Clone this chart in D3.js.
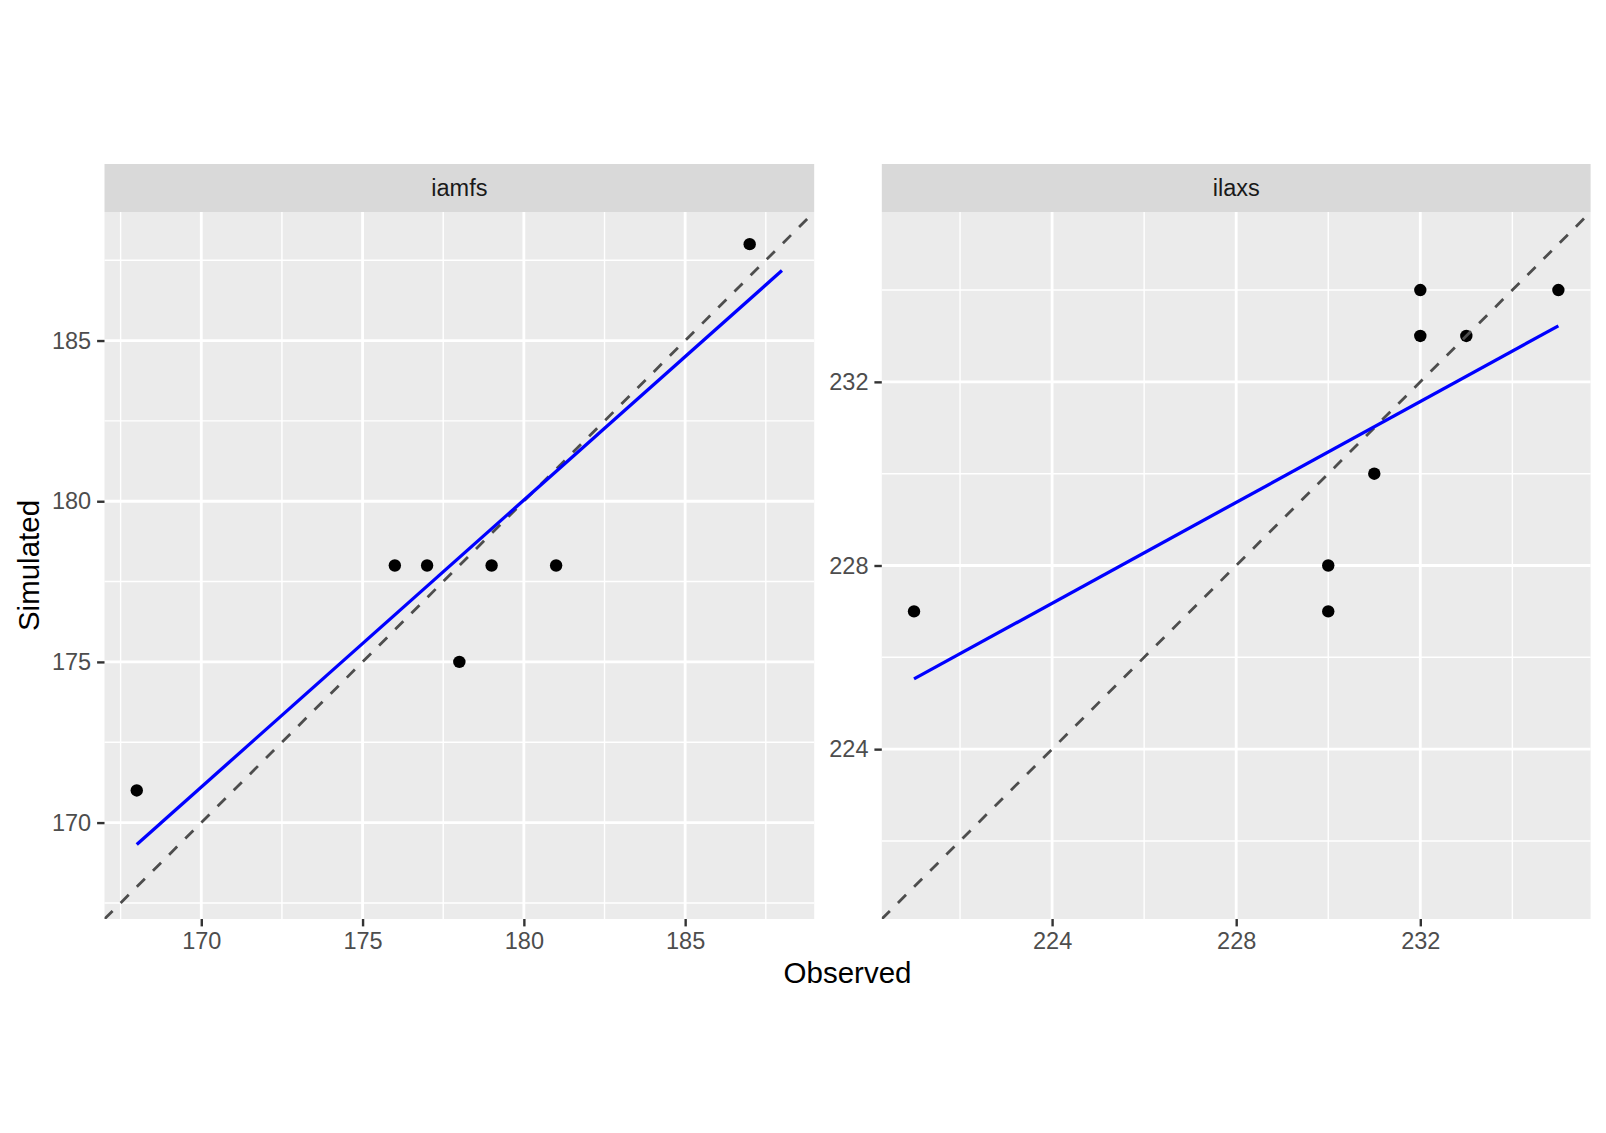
<!DOCTYPE html>
<html>
<head>
<meta charset="utf-8">
<script src="https://cdn.jsdelivr.net/npm/d3@7"></script>
<style>
  html, body { margin: 0; padding: 0; background: #ffffff; }
  svg { display: block; }
  text { font-family: "Liberation Sans", Arial, Helvetica, sans-serif; }
</style>
</head>
<body>
<svg id="chart" width="1606" height="1133"></svg>
<script>
// ---------------- data ----------------
const panelNames = ["iamfs", "ilaxs"];

const observedIamfs = [168, 176, 177, 178, 179, 181, 187];
const simulatedIamfs = [171, 178, 178, 175, 178, 178, 188];
const observedIlaxs = [221, 230, 230, 231, 232, 232, 233, 235];
const simulatedIlaxs = [227, 228, 227, 230, 234, 233, 233, 234];

// fitted (blue) line end points, in data units
const fitXIamfs = [168, 188];
const fitYIamfs = [169.32, 187.18];
const fitXIlaxs = [221, 235];
const fitYIlaxs = [225.53, 233.22];

// axis limits (same for x and y within a panel)
const limitsIamfs = [167, 189];
const limitsIlaxs = [220.3, 235.7];

// tick labels
const majorTicksIamfs = [170, 175, 180, 185];
const minorTicksIamfs = [167.5, 172.5, 177.5, 182.5, 187.5];
const majorTicksIlaxs = [224, 228, 232];
const minorTicksIlaxs = [222, 226, 230, 234];

const xTitle = "Observed";
const yTitle = "Simulated";

// ---------------- layout ----------------
const svg = d3.select("#chart");
const panelTop = 212, panelBottom = 919, stripTop = 164;
const panelBoxes = [
  { left: 104.5, right: 814.2 },
  { left: 881.8, right: 1590.6 }
];

const panels = [
  { name: panelNames[0], obs: observedIamfs, sim: simulatedIamfs, fx: fitXIamfs, fy: fitYIamfs,
    lim: limitsIamfs, major: majorTicksIamfs, minor: minorTicksIamfs },
  { name: panelNames[1], obs: observedIlaxs, sim: simulatedIlaxs, fx: fitXIlaxs, fy: fitYIlaxs,
    lim: limitsIlaxs, major: majorTicksIlaxs, minor: minorTicksIlaxs }
];

const tickFont = 23.5, titleFont = 29.5;

panels.forEach((p, i) => {
  const box = panelBoxes[i];
  const x = d3.scaleLinear().domain(p.lim).range([box.left, box.right]);
  const y = d3.scaleLinear().domain(p.lim).range([panelBottom, panelTop]);
  const g = svg.append("g");

  const clipId = "clip" + i;
  svg.append("clipPath").attr("id", clipId)
    .append("rect").attr("x", box.left).attr("y", panelTop)
    .attr("width", box.right - box.left).attr("height", panelBottom - panelTop);

  // panel background
  g.append("rect").attr("x", box.left).attr("y", panelTop)
    .attr("width", box.right - box.left).attr("height", panelBottom - panelTop)
    .attr("fill", "#EBEBEB");

  // minor grid
  g.selectAll(".minx").data(p.minor).enter().append("line")
    .attr("x1", d => x(d)).attr("x2", d => x(d)).attr("y1", panelTop).attr("y2", panelBottom)
    .attr("stroke", "#ffffff").attr("stroke-width", 1.4);
  g.selectAll(".miny").data(p.minor).enter().append("line")
    .attr("y1", d => y(d)).attr("y2", d => y(d)).attr("x1", box.left).attr("x2", box.right)
    .attr("stroke", "#ffffff").attr("stroke-width", 1.4);
  // major grid
  g.selectAll(".majx").data(p.major).enter().append("line")
    .attr("x1", d => x(d)).attr("x2", d => x(d)).attr("y1", panelTop).attr("y2", panelBottom)
    .attr("stroke", "#ffffff").attr("stroke-width", 2.8);
  g.selectAll(".majy").data(p.major).enter().append("line")
    .attr("y1", d => y(d)).attr("y2", d => y(d)).attr("x1", box.left).attr("x2", box.right)
    .attr("stroke", "#ffffff").attr("stroke-width", 2.8);

  // strip
  g.append("rect").attr("x", box.left).attr("y", stripTop)
    .attr("width", box.right - box.left).attr("height", panelTop - stripTop)
    .attr("fill", "#D9D9D9");
  g.append("text").attr("x", (box.left + box.right) / 2).attr("y", (stripTop + panelTop) / 2)
    .attr("text-anchor", "middle").attr("dominant-baseline", "central")
    .attr("font-size", tickFont).attr("fill", "#1A1A1A").text(p.name);

  // axes
  const xAxis = d3.axisBottom(x).tickValues(p.major).tickSize(7.4).tickPadding(5.9).tickFormat(d3.format("d"));
  const yAxis = d3.axisLeft(y).tickValues(p.major).tickSize(7.4).tickPadding(5.9).tickFormat(d3.format("d"));
  const gx = g.append("g").attr("transform", `translate(0,${panelBottom})`).call(xAxis);
  const gy = g.append("g").attr("transform", `translate(${box.left},0)`).call(yAxis);
  [gx, gy].forEach(ax => {
    ax.select(".domain").remove();
    ax.selectAll(".tick line").attr("stroke", "#333333").attr("stroke-width", 2.4);
    ax.selectAll(".tick text").attr("fill", "#4D4D4D").attr("font-size", tickFont)
      .attr("font-family", '"Liberation Sans", Arial, sans-serif');
  });

  const plot = g.append("g").attr("clip-path", `url(#${clipId})`);

  // points
  plot.selectAll(".pt").data(p.obs.map((o, k) => [o, p.sim[k]])).enter().append("circle")
    .attr("cx", d => x(d[0])).attr("cy", d => y(d[1])).attr("r", 6.2).attr("fill", "#000000");

  // 1:1 dashed line
  plot.append("line")
    .attr("x1", x(p.lim[0])).attr("y1", y(p.lim[0]))
    .attr("x2", x(p.lim[1])).attr("y2", y(p.lim[1]))
    .attr("stroke", "#4D4D4D").attr("stroke-width", 2.8)
    .attr("stroke-dasharray", "11.4,11.4");

  // fitted line
  plot.append("line")
    .attr("x1", x(p.fx[0])).attr("y1", y(p.fy[0]))
    .attr("x2", x(p.fx[1])).attr("y2", y(p.fy[1]))
    .attr("stroke", "#0000FF").attr("stroke-width", 3.3);
});

// axis titles
svg.append("text").attr("x", (panelBoxes[0].left + panelBoxes[1].right) / 2).attr("y", 983.3)
  .attr("text-anchor", "middle").attr("font-size", titleFont).attr("fill", "#000000").text(xTitle);
svg.append("text")
  .attr("transform", `translate(38.5,${(panelTop + panelBottom) / 2}) rotate(-90)`)
  .attr("text-anchor", "middle").attr("font-size", titleFont).attr("fill", "#000000").text(yTitle);
</script>
</body>
</html>
